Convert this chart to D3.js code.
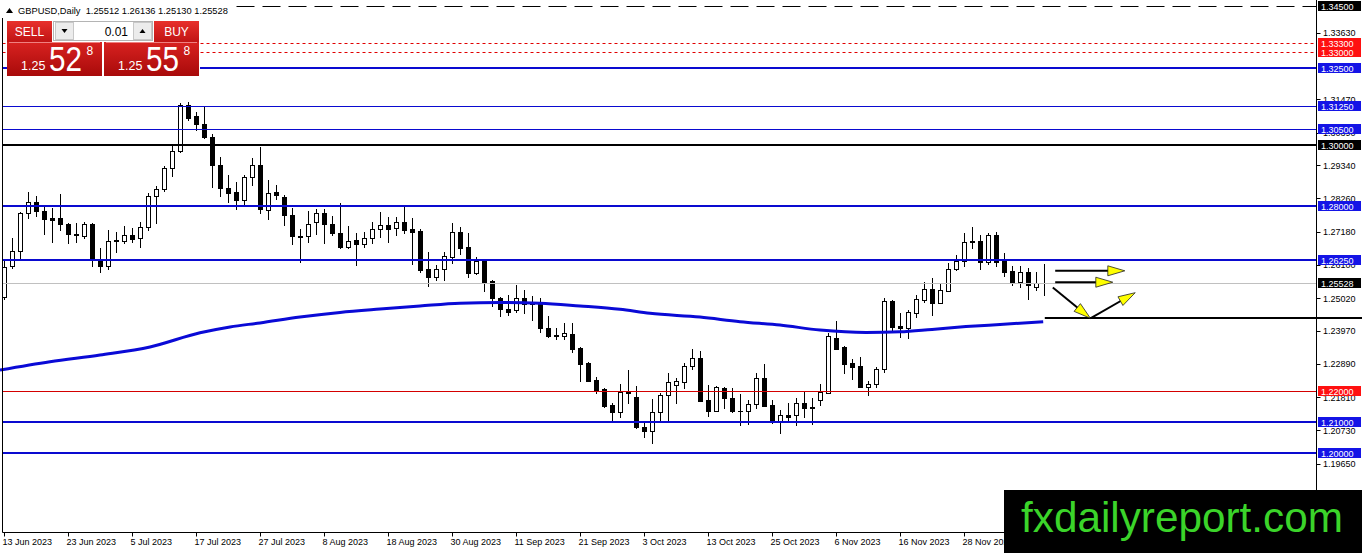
<!DOCTYPE html>
<html>
<head>
<title>GBPUSD Daily</title>
<script src="https://d3js.org/d3.v7.min.js"></script>
<style>
	body{margin:0;background:#fff;overflow:hidden;}
	text{font-family:'Liberation Sans',Arial,sans-serif;}
	.tick-label{font-size:9px;fill:#000;}
	.box-label{font-size:9px;fill:#fff;}
</style>
</head>
<body>
<div class="chart"></div>
<script>
	// daily bars from 13 Jun 2023: [open, high, low, close]
	const candles = [
		[1.2506,1.2626,1.2500,1.2603],[1.2605,1.2697,1.2600,1.2656],[1.2656,1.2783,1.2626,1.2779],[1.2778,1.2848,1.2762,1.2815],
		[1.2815,1.2834,1.2769,1.2785],[1.2785,1.2804,1.2710,1.2758],[1.2761,1.2795,1.2685,1.2757],[1.2761,1.2839,1.2723,1.2742],
		[1.2744,1.2747,1.2682,1.2710],[1.2710,1.2745,1.2685,1.2706],[1.2705,1.2750,1.2698,1.2742],[1.2743,1.2745,1.2605,1.2626],
		[1.2627,1.2664,1.2588,1.2606],[1.2606,1.2723,1.2597,1.2689],[1.2690,1.2718,1.2653,1.2688],[1.2688,1.2736,1.2680,1.2706],
		[1.2706,1.2731,1.2684,1.2695],[1.2696,1.2750,1.2669,1.2732],[1.2732,1.2842,1.2723,1.2834],[1.2834,1.2867,1.2747,1.2855],
		[1.2855,1.2931,1.2850,1.2926],[1.2926,1.2999,1.2900,1.2980],[1.2980,1.3134,1.2976,1.3129],[1.3129,1.3140,1.3080,1.3086],
		[1.3093,1.3105,1.3049,1.3066],[1.3066,1.3121,1.3023,1.3026],[1.3026,1.3035,1.2864,1.2933],[1.2934,1.2959,1.2835,1.2859],
		[1.2859,1.2902,1.2813,1.2845],[1.2846,1.2878,1.2792,1.2820],[1.2821,1.2902,1.2804,1.2895],[1.2895,1.2958,1.2869,1.2934],
		[1.2934,1.2994,1.2778,1.2792],[1.2788,1.2886,1.2759,1.2842],[1.2847,1.2869,1.2823,1.2836],[1.2831,1.2837,1.2740,1.2772],
		[1.2772,1.2794,1.2677,1.2704],[1.2704,1.2726,1.2621,1.2702],[1.2704,1.2786,1.2685,1.2742],[1.2750,1.2790,1.2710,1.2778],
		[1.2778,1.2790,1.2680,1.2742],[1.2743,1.2769,1.2707,1.2714],[1.2715,1.2812,1.2665,1.2667],[1.2667,1.2736,1.2664,1.2688],
		[1.2691,1.2715,1.2610,1.2677],[1.2677,1.2718,1.2669,1.2696],[1.2696,1.2750,1.2682,1.2726],[1.2726,1.2783,1.2702,1.2740],
		[1.2740,1.2765,1.2685,1.2728],[1.2729,1.2765,1.2707,1.2748],[1.2748,1.2797,1.2715,1.2723],[1.2726,1.2761,1.2613,1.2718],
		[1.2721,1.2726,1.2588,1.2594],[1.2596,1.2653,1.2542,1.2572],[1.2572,1.2610,1.2561,1.2596],[1.2596,1.2653,1.2561,1.2639],
		[1.2637,1.2745,1.2615,1.2717],[1.2717,1.2734,1.2646,1.2666],[1.2667,1.2714,1.2572,1.2583],[1.2583,1.2637,1.2581,1.2623],
		[1.2623,1.2628,1.2524,1.2556],[1.2558,1.2561,1.2477,1.2502],[1.2504,1.2507,1.2445,1.2466],[1.2467,1.2513,1.2448,1.2458],
		[1.2464,1.2545,1.2458,1.2502],[1.2502,1.2529,1.2455,1.2483],[1.2487,1.2509,1.2432,1.2483],[1.2486,1.2502,1.2394,1.2405],
		[1.2405,1.2445,1.2376,1.2378],[1.2383,1.2405,1.2369,1.2378],[1.2378,1.2423,1.2369,1.2388],[1.2386,1.2421,1.2329,1.2337],
		[1.2339,1.2344,1.2235,1.2290],[1.2293,1.2294,1.2232,1.2234],[1.2237,1.2248,1.2194,1.2205],[1.2208,1.2211,1.2149,1.2153],
		[1.2156,1.2163,1.2107,1.2132],[1.2132,1.2224,1.2118,1.2199],[1.2199,1.2270,1.2161,1.2194],[1.2181,1.2218,1.2080,1.2084],
		[1.2085,1.2102,1.2051,1.2072],[1.2072,1.2174,1.2034,1.2132],[1.2132,1.2194,1.2102,1.2188],[1.2188,1.2261,1.2102,1.2231],
		[1.2221,1.2242,1.2161,1.2234],[1.2231,1.2291,1.2210,1.2283],[1.2283,1.2337,1.2272,1.2308],[1.2308,1.2332,1.2169,1.2170],
		[1.2172,1.2221,1.2120,1.2137],[1.2137,1.2218,1.2136,1.2213],[1.2210,1.2213,1.2145,1.2178],[1.2180,1.2210,1.2134,1.2136],
		[1.2137,1.2190,1.2091,1.2135],[1.2137,1.2172,1.2094,1.2159],[1.2159,1.2259,1.2145,1.2242],[1.2242,1.2289,1.2152,1.2153],
		[1.2156,1.2172,1.2098,1.2102],[1.2105,1.2140,1.2066,1.2123],[1.2123,1.2161,1.2102,1.2116],[1.2123,1.2178,1.2091,1.2161],
		[1.2161,1.2199,1.2118,1.2145],[1.2150,1.2178,1.2094,1.2147],[1.2172,1.2224,1.2156,1.2198],[1.2196,1.2388,1.2194,1.2380],
		[1.2373,1.2428,1.2336,1.2337],[1.2343,1.2347,1.2261,1.2290],[1.2293,1.2304,1.2239,1.2280],[1.2283,1.2311,1.2213,1.2215],
		[1.2215,1.2235,1.2188,1.2224],[1.2223,1.2280,1.2215,1.2272],[1.2272,1.2502,1.2264,1.2493],[1.2493,1.2496,1.2399,1.2410],
		[1.2412,1.2453,1.2376,1.2407],[1.2407,1.2464,1.2373,1.2456],[1.2455,1.2513,1.2442,1.2499],[1.2496,1.2556,1.2491,1.2531],
		[1.2531,1.2567,1.2448,1.2488],[1.2488,1.2550,1.2486,1.2529],[1.2526,1.2615,1.2524,1.2598],[1.2598,1.2642,1.2594,1.2624],
		[1.2624,1.2714,1.2605,1.2685],[1.2688,1.2733,1.2664,1.2684],[1.2688,1.2707,1.2598,1.2621],[1.2618,1.2715,1.2613,1.2707],
		[1.2707,1.2718,1.2605,1.2621],[1.2624,1.2648,1.2574,1.2588],[1.2590,1.2608,1.2545,1.2554],[1.2554,1.2605,1.2540,1.2586],
		[1.2586,1.2600,1.2499,1.2545],[1.2537,1.2586,1.2529,1.2551],[1.25512,1.26136,1.25130,1.25528]
	];

	// moving average: [bar index, price]
	const maPoints = [
		[-0.5,1.2269],[5.75,1.2296],[12,1.2318],[18.25,1.2344],[24.5,1.2390],[28.25,1.2409],[32,1.2422],[37,1.2441],
		[42,1.2456],[47,1.2467],[52,1.2477],[57,1.2486],[62,1.2488],[67,1.2486],[72,1.2477],[77,1.2466],[80.75,1.2453],
		[87,1.2441],[92,1.2426],[97,1.2415],[102,1.2399],[107.75,1.2391],[112,1.2393],[116,1.2401],[120.25,1.2410],
		[124.5,1.2417],[129.9,1.2426]
	];

	const dateLabels = ['13 Jun 2023','23 Jun 2023','5 Jul 2023','17 Jul 2023','27 Jul 2023','8 Aug 2023','18 Aug 2023',
		'30 Aug 2023','11 Sep 2023','21 Sep 2023','3 Oct 2023','13 Oct 2023','25 Oct 2023','6 Nov 2023','16 Nov 2023',
		'28 Nov 2023'];
	const priceTicks = [1.3363,1.3147,1.3039,1.2934,1.2826,1.2718,1.2610,1.2502,1.2397,1.2289,1.2181,1.2073,1.1965];

	const topLevel = [1.345];
	const redDotted = [1.333,1.330];
	const blueThick = [1.325,1.28,1.2625,1.21,1.20];
	const blueThin = [1.3125,1.305];
	const blackLevel = [1.30];
	const redLevel = [1.22];
	const bidPrice = 1.25528;
	const supportLevel = 1.2437;
	const supportStart = 130.1;

	// arrows: [fromBar, fromPrice, toBar, toPrice]
	const arrows = [
		[131.4,1.2591,140.1,1.2591],
		[131.4,1.2554,138.6,1.2554],
		[131.1,1.2537,135.8,1.2437],
		[135.8,1.2437,141.4,1.2520]
	];

	const title = 'GBPUSD,Daily  1.25512 1.26136 1.25130 1.25528';
	const sellQuote = ['1.25','52','8'];
	const buyQuote = ['1.25','55','8'];
	const lotSize = '0.01';

	const W = 1362, H = 553;
	const plotLeft = 2.5, plotRight = 1316.5, plotBottom = 532.5;

	const svg = d3.select('.chart').append('svg').attr('width',W).attr('height',H);

	const x = d3.scaleLinear().domain([0,130]).range([4,1044]);
	const y = d3.scaleLinear().domain([1.345,1.20]).range([6,453]);
	const px = v => Math.round(x(v)) + 0.5;
	const py = v => Math.round(y(v)) + 0.5;

	// candles
	const cg = svg.append('g');
	candles.forEach((d,i) => {
		const [o,h,l,c] = d;
		const cx = px(i);
		cg.append('line').attr('x1',cx).attr('x2',cx).attr('y1',Math.round(y(h))).attr('y2',Math.round(y(l))+1)
			.attr('stroke','#000').attr('stroke-width',1);
		const top = Math.round(y(Math.max(o,c))), bot = Math.round(y(Math.min(o,c)));
		if (bot - top < 1) {
			cg.append('line').attr('x1',cx-2.5).attr('x2',cx+2.5).attr('y1',top+0.5).attr('y2',top+0.5)
				.attr('stroke','#000');
		} else {
			cg.append('rect').attr('x',cx-2).attr('y',top+0.5).attr('width',4).attr('height',bot-top)
				.attr('fill', c >= o ? '#fff' : '#000').attr('stroke','#000').attr('stroke-width',1);
		}
	});

	// moving average
	svg.append('path').datum(maPoints)
		.attr('d', d3.line().x(d => x(d[0])).y(d => y(d[1])).curve(d3.curveMonotoneX))
		.attr('fill','none').attr('stroke','#0a0ad6').attr('stroke-width',3);

	// horizontal levels
	const lg = svg.append('g');
	function level(values, stroke, width, dash){
		values.forEach(v => {
			const yy = width % 2 ? py(v) : Math.round(y(v));
			lg.append('line').attr('x1',plotLeft).attr('x2',plotRight).attr('y1',yy).attr('y2',yy)
				.attr('stroke',stroke).attr('stroke-width',width).attr('stroke-dasharray',dash || null);
		});
	}
	level(topLevel,'#000',1,'18,8');
	level(redDotted,'#e00000',1,'3,3');
	level(blueThin,'#0a0ad0',1);
	level(blueThick,'#0a0ad0',2);
	level(blackLevel,'#000',2);
	level(redLevel,'#d40000',1);
	level([bidPrice],'#c0c0c0',1);

	// support line running off the right edge
	lg.append('line').attr('x1',x(supportStart)).attr('x2',W)
		.attr('y1',Math.round(y(supportLevel))).attr('y2',Math.round(y(supportLevel)))
		.attr('stroke','#000').attr('stroke-width',2);

	// arrows
	const ag = svg.append('g');
	arrows.forEach(a => {
		const x1 = x(a[0]), y1 = y(a[1]), x2 = x(a[2]), y2 = y(a[3]);
		const ang = Math.atan2(y2-y1, x2-x1);
		const len = 17, hw = 5;
		ag.append('line').attr('x1',x1).attr('y1',y1).attr('x2',x2 - Math.cos(ang)*len*0.6).attr('y2',y2 - Math.sin(ang)*len*0.6)
			.attr('stroke','#000').attr('stroke-width',2);
		const bx = x2 - Math.cos(ang)*len, by = y2 - Math.sin(ang)*len;
		const pts = [[x2,y2],[bx - Math.sin(ang)*hw, by + Math.cos(ang)*hw],[bx + Math.sin(ang)*hw, by - Math.cos(ang)*hw]];
		ag.append('polygon').attr('points',pts.map(p => p.join(',')).join(' '))
			.attr('fill','#ffff00').attr('stroke','#222').attr('stroke-width',0.8);
	});

	// frame
	svg.append('line').attr('x1',plotLeft).attr('x2',plotLeft).attr('y1',0).attr('y2',plotBottom).attr('stroke','#000');
	svg.append('line').attr('x1',plotLeft).attr('x2',plotRight).attr('y1',plotBottom).attr('y2',plotBottom).attr('stroke','#000');
	svg.append('line').attr('x1',plotRight).attr('x2',plotRight).attr('y1',0).attr('y2',plotBottom).attr('stroke','#000');

	// price axis ticks (some sit under the level boxes, as in the terminal)
	const tg = svg.append('g');
	priceTicks.forEach(v => {
		tg.append('line').attr('x1',plotRight).attr('x2',plotRight+4).attr('y1',py(v)).attr('y2',py(v)).attr('stroke','#000');
		tg.append('text').attr('class','tick-label').attr('x',1323).attr('y',y(v)+3.5).text(v.toFixed(5));
	});

	// level price boxes
	function boxes(values, fill){
		values.forEach(v => {
			const yy = Math.round(y(v));
			tg.append('rect').attr('x',1318).attr('y',yy-5).attr('width',43).attr('height',10).attr('fill',fill);
			tg.append('text').attr('class','box-label').attr('x',1321).attr('y',yy+3.5).text(v.toFixed(5));
		});
	}
	boxes(topLevel,'#000');
	boxes(redDotted,'#ff1010');
	boxes(blueThick,'#1414e6');
	boxes(blueThin,'#1414e6');
	boxes(blackLevel,'#000');
	boxes(redLevel,'#ff1010');
	boxes([bidPrice],'#000');

	// time axis
	const xg = svg.append('g');
	dateLabels.forEach((t,k) => {
		const xx = px(k*8);
		xg.append('line').attr('x1',xx).attr('x2',xx).attr('y1',plotBottom).attr('y2',plotBottom+4).attr('stroke','#000');
		xg.append('text').attr('class','tick-label').attr('x',xx-2).attr('y',545).text(t);
	});

	// title
	svg.append('rect').attr('x',0).attr('y',0).attr('width',232).attr('height',18).attr('fill','#fff');
	svg.append('path').attr('d','M6,13 L9.5,8 L13,13 Z').attr('fill','#000');
	svg.append('text').attr('x',18).attr('y',14).style('font-size','9.3px').attr('fill','#000')
		.attr('xml:space','preserve').text(title);

	// one-click trading panel
	const defs = svg.append('defs');
	const g1 = defs.append('linearGradient').attr('id','btn').attr('x1',0).attr('x2',0).attr('y1',0).attr('y2',1);
	g1.append('stop').attr('offset','0%').attr('stop-color','#e8302c');
	g1.append('stop').attr('offset','100%').attr('stop-color','#c01414');
	const g2 = defs.append('linearGradient').attr('id','quote').attr('x1',0).attr('x2',0).attr('y1',0).attr('y2',1);
	g2.append('stop').attr('offset','0%').attr('stop-color','#d82220');
	g2.append('stop').attr('offset','100%').attr('stop-color','#a80a0a');

	const pg = svg.append('g');
	pg.append('rect').attr('x',7).attr('y',20).attr('width',193).attr('height',56).attr('fill','#fff');
	[[7,'SELL'],[154,'BUY']].forEach(b => {
		pg.append('rect').attr('x',b[0]).attr('y',21).attr('width',45).attr('height',21).attr('fill','url(#btn)');
		pg.append('text').attr('x',b[0]+22.5).attr('y',35.5).attr('text-anchor','middle').style('font-size','12px')
			.attr('fill','#fff').text(b[1]);
	});
	pg.append('rect').attr('x',53.5).attr('y',21.5).attr('width',99).attr('height',19).attr('fill','#fff').attr('stroke','#b4b4b4');
	[55,133].forEach((bx,k) => {
		pg.append('rect').attr('x',bx+0.5).attr('y',22.5).attr('width',18).attr('height',17).attr('fill','#ececec').attr('stroke','#c8c8c8');
		pg.append('path').attr('d', k ? `M${bx+6.5},33 L${bx+9.5},29 L${bx+12.5},33 Z` : `M${bx+6.5},29 L${bx+9.5},33 L${bx+12.5},29 Z`)
			.attr('fill','#000');
	});
	pg.append('text').attr('x',128).attr('y',35.5).attr('text-anchor','end').style('font-size','12px').attr('fill','#000').text(lotSize);
	[[7,sellQuote],[104,buyQuote]].forEach(q => {
		const bx = q[0], v = q[1];
		pg.append('rect').attr('x',bx).attr('y',42).attr('width',95).attr('height',34).attr('fill','url(#quote)');
		pg.append('line').attr('x1',bx+2).attr('x2',bx+93).attr('y1',42.5).attr('y2',42.5).attr('stroke','#f08080').attr('stroke-width',1);
		pg.append('text').attr('x',bx+14).attr('y',70).style('font-size','12.5px').attr('fill','#fff').text(v[0]);
		pg.append('text').attr('x',bx+42).attr('y',71).style('font-size','35px').attr('fill','#fff')
			.attr('textLength',33).attr('lengthAdjust','spacingAndGlyphs').text(v[1]);
		pg.append('text').attr('x',bx+79.5).attr('y',55).style('font-size','12px').attr('fill','#fff').text(v[2]);
	});

	// watermark
	svg.append('rect').attr('x',1004).attr('y',490).attr('width',W-1004).attr('height',H-490).attr('fill','#000');
	svg.append('text').attr('x',1021).attr('y',532).style('font-size','42px').attr('fill','#3bd42a')
		.attr('textLength',322).attr('lengthAdjust','spacingAndGlyphs').text('fxdailyreport.com');
</script>
</body>
</html>
